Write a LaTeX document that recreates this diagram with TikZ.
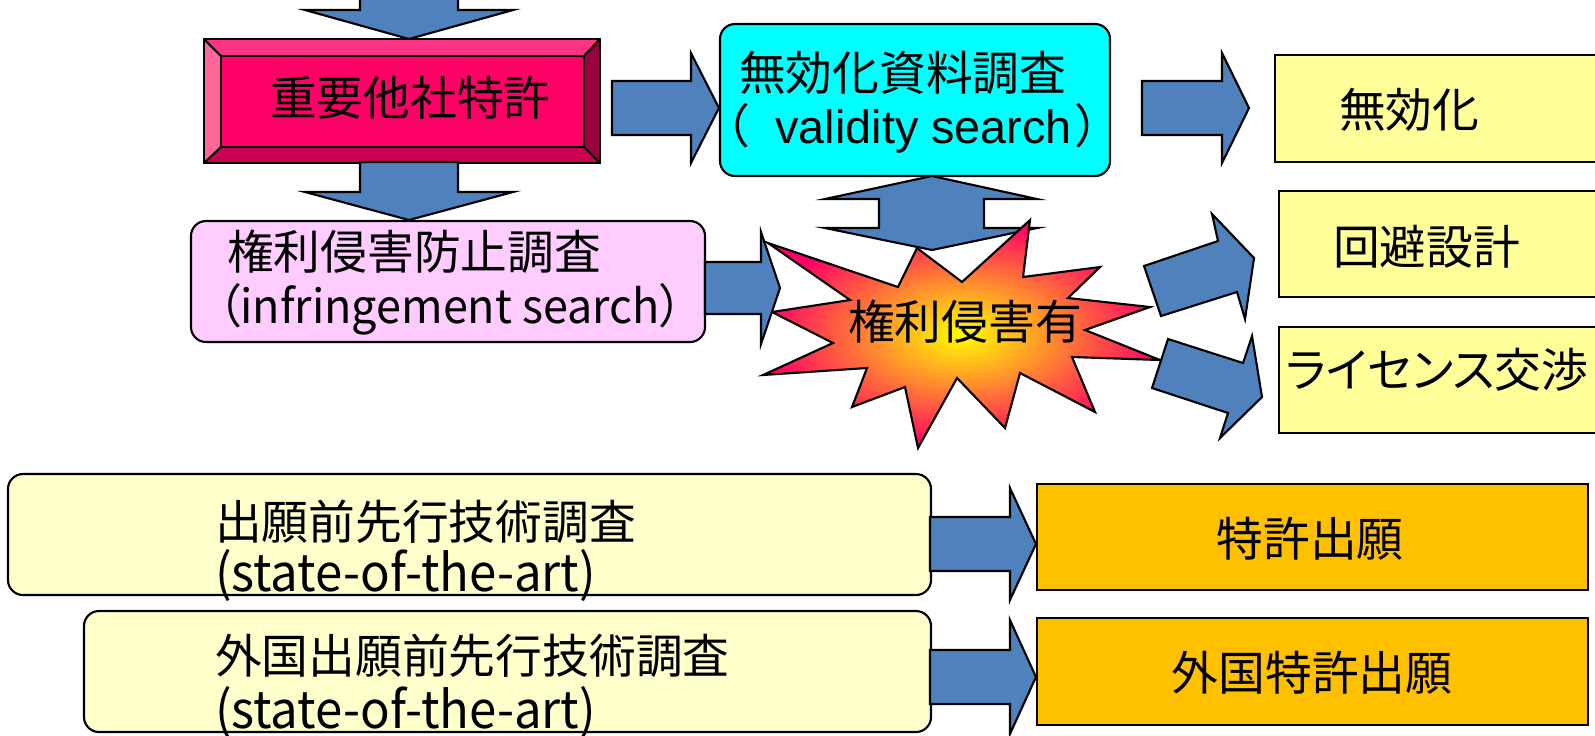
\documentclass[tikz,border=0pt]{standalone}
\usepackage{fontspec}
\setmainfont{Noto Sans CJK JP}[RawFeature=+palt]
\newfontfamily\latf{Liberation Sans}
\usetikzlibrary{fit,calc}
\definecolor{arrowblue}{HTML}{4F81BD}
\definecolor{bevface}{HTML}{FF0066}
\definecolor{bevtop}{HTML}{FF3385}
\definecolor{bevleft}{HTML}{FF6699}
\definecolor{bevbottom}{HTML}{CC0052}
\definecolor{bevright}{HTML}{99003D}
\definecolor{validcyan}{HTML}{00FFFF}
\definecolor{infpink}{HTML}{FFCCFF}
\definecolor{resyellow}{HTML}{FFFF99}
\definecolor{artyellow}{HTML}{FFFFCC}
\definecolor{apporange}{HTML}{FFC000}
\definecolor{starred}{HTML}{FF0066}
\begin{document}
\begin{tikzpicture}[x=0.01cm,y=-0.01cm, line width=0.6pt, line join=miter,
  arrowshape/.style={fill=arrowblue, draw=black},
  boxbase/.style={draw=black, inner sep=0pt},
  roundbox/.style={boxbase, rounded corners=0.15cm},
  txt/.style={inner sep=0pt, font=\fontsize{13.3pt}{16pt}\selectfont, anchor=west},
  ctxt/.style={inner sep=0pt, font=\fontsize{13.3pt}{16pt}\selectfont},
  pics/blockarrow/.style args={#1/#2/#3/#4}{code={
    \draw[arrowshape] (0,0) -- (-#4,-#3) -- (-#4,-#2) -- (-#1,-#2) -- (-#1,#2) -- (-#4,#2) -- (-#4,#3) -- cycle;}}
]
\useasboundingbox (0,0) rectangle (1595,735);
\fill[white] (0,0) rectangle (1595,735);
\clip (0,0) rectangle (1595,735);

% ---------- important patent (bevel box) ----------
\node[fit={(205,40)(599,162)}, inner sep=0pt] (imp) {};
\coordinate (ia) at (221,56);
\coordinate (ib) at (584,56);
\coordinate (ic) at (584,147);
\coordinate (id) at (221,147);
\fill[bevface] (ia) rectangle (ic);
\fill[bevtop] (imp.north west) -- (imp.north east) -- (ib) -- (ia) -- cycle;
\fill[bevleft] (imp.north west) -- (ia) -- (id) -- (imp.south west) -- cycle;
\fill[bevbottom] (imp.south west) -- (imp.south east) -- (ic) -- (id) -- cycle;
\fill[bevright] (imp.north east) -- (imp.south east) -- (ic) -- (ib) -- cycle;
\draw (imp.north west) rectangle (imp.south east);
\draw (ia) rectangle (ic);
\draw (imp.north west) -- (ia) (imp.north east) -- (ib) (imp.south east) -- (ic) (imp.south west) -- (id);
\node[txt] (timp) at (269,98) {重要他社特許};

% ---------- boxes ----------
\node[fit={(720,24)(1110,176)}, roundbox, fill=validcyan] (valid) {};
\node[txt] (tvalid1) at (738,73) {無効化資料調査};
\node[txt] (tvalid2) at (724,128) {（{\latf\hspace{0.14cm} validity search}\hspace{0.04cm}）};

\node[fit={(191,221)(705,342)}, roundbox, fill=infpink] (inf) {};
\node[txt] (tinf1) at (226,252) {権利侵害防止調査};
\node[txt] (tinf2) at (217,309) {\scalebox{0.96}[1]{（infringement search）}};

\node[fit={(1275,55)(1605,162)}, boxbase, fill=resyellow] (inval) {};
\node[txt] (tinval) at (1338,110) {無効化};
\node[fit={(1279,191)(1605,297)}, boxbase, fill=resyellow] (avoid) {};
\node[txt] (tavoid) at (1332,247) {回避設計};
\node[fit={(1279,327)(1605,433)}, boxbase, fill=resyellow] (lic) {};
\node[txt] (tlic) at (1285,370) {ライセンス交渉};

\node[fit={(8,474)(931,595)}, roundbox, fill=artyellow] (art1) {};
\node[txt] (tart1a) at (214,522) {出願前先行技術調査};
\node[txt] (tart1b) at (214,575) {\scalebox{1.05}[1.1]{(state-of-the-art)}};
\node[fit={(84,611)(931,732)}, roundbox, fill=artyellow] (art2) {};
\node[txt] (tart2a) at (214,656) {外国出願前先行技術調査};
\node[txt] (tart2b) at (214,712) {\scalebox{1.05}[1.1]{(state-of-the-art)}};

\node[fit={(1037,484)(1588,590)}, boxbase, fill=apporange] (app1) {};
\node[ctxt] (tapp1) at (1310,539) {特許出願};
\node[fit={(1037,618)(1588,725)}, boxbase, fill=apporange] (app2) {};
\node[ctxt] (tapp2) at (1312,673) {外国特許出願};

% ---------- block arrows ----------
\pic[rotate=-90] at (409,39) {blockarrow={80/49/104/29}};
\pic[rotate=-90] at (409,220) {blockarrow={58/49/104/28}};
\pic at (valid.west |- 0,108) {blockarrow={107/27/55/28}};
\pic at (1249,108) {blockarrow={107/27/55/27}};
\pic at (app1.west |- 0,544) {blockarrow={106/27/56/26}};
\pic at (app2.west |- 0,677) {blockarrow={106/27/57/26}};

% up-down arrow between validity search and infringement star
\draw[arrowshape] (932,176) -- (1037,199) -- (984,199) -- (984,228) -- (1037,228)
  -- (932,250) -- (825,228) -- (879,228) -- (879,199) -- (825,199) -- cycle;

% ---------- star ----------
\shadedraw[draw=black, inner color=yellow, outer color=starred]
  (768,243) -- (898,287) -- (917,248) -- (962,282) -- (1030,220) -- (1023,277)
  -- (1100,267) -- (1068,298) -- (1150,307) -- (1085,330) -- (1160,360) -- (1072,357)
  -- (1095,412) -- (1020,373) -- (1005,428) -- (957,378) -- (918,448) -- (905,387)
  -- (852,407) -- (867,368) -- (763,375) -- (833,343) -- (772,312) -- (850,300) -- cycle;
\node[txt] (tstar) at (847,322) {権利侵害有};

\pic at (780,288) {blockarrow={75/26/56/19}};

% tilted arrows
\draw[arrowshape] (1144,266) -- (1218,241) -- (1212,214) -- (1254,258) -- (1245,319)
  -- (1237,292) -- (1161,316) -- cycle;
\draw[arrowshape] (1168,339) -- (1243,363) -- (1252,336) -- (1262,397) -- (1220,438)
  -- (1228,413) -- (1152,388) -- cycle;
\end{tikzpicture}
\end{document}
